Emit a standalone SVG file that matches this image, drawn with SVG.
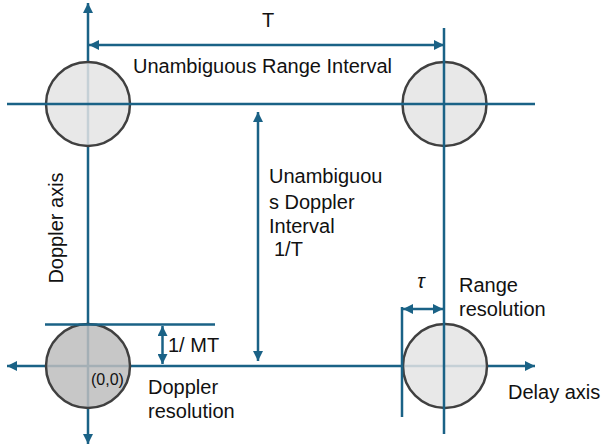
<svg xmlns="http://www.w3.org/2000/svg" width="601" height="448" viewBox="0 0 601 448">
<defs>
<style>
.ax{stroke:#1a6286;stroke-width:2.5;fill:none}
.c{stroke:#404040;stroke-width:2.5;fill:#e4e4e4;fill-opacity:0.85}
.cd{stroke:#404040;stroke-width:2.5;fill:#bdbdbd;fill-opacity:0.85}
.t{font-family:"Liberation Sans",Arial,sans-serif;font-size:20px;fill:#111}
.s{font-family:"Liberation Sans",Arial,sans-serif;font-size:16px;fill:#111}
</style>
<marker id="ah" viewBox="0 0 10 10" refX="10" refY="5" markerWidth="10" markerHeight="10" markerUnits="userSpaceOnUse" orient="auto-start-reverse">
<path d="M0,0 L10,5 L0,10 Z" fill="#1a6286"/>
</marker>
</defs>
<g id="connectors-under">
<line class="ax" x1="88" y1="444" x2="88" y2="3" marker-start="url(#ah)" marker-end="url(#ah)"/>
<line class="ax" x1="7" y1="366" x2="535" y2="366" marker-start="url(#ah)" marker-end="url(#ah)"/>
</g>
<g id="node-tl"><circle class="c" cx="88" cy="104" r="42"/></g>
<g id="node-tr"><circle class="c" cx="444.5" cy="104" r="42"/></g>
<g id="node-bl"><circle class="cd" cx="88" cy="366" r="42"/></g>
<g id="node-br"><circle class="c" cx="445" cy="366" r="42"/></g>
<g id="connectors">
<line class="ax" x1="7" y1="104" x2="535" y2="104"/>
<line class="ax" x1="444" y1="28" x2="444" y2="434"/>
<line class="ax" x1="89" y1="45" x2="444" y2="45" marker-start="url(#ah)" marker-end="url(#ah)"/>
<line class="ax" x1="258" y1="112" x2="258" y2="361" marker-start="url(#ah)" marker-end="url(#ah)"/>
<line class="ax" x1="45" y1="324.5" x2="215" y2="324.5"/>
<line class="ax" x1="162.5" y1="326" x2="162.5" y2="364" marker-start="url(#ah)" marker-end="url(#ah)"/>
<line class="ax" x1="402" y1="307" x2="402" y2="417"/>
<line class="ax" x1="403" y1="309" x2="443" y2="309" marker-start="url(#ah)" marker-end="url(#ah)"/>
</g>
<g id="labels">
<text class="t" x="268" y="27" text-anchor="middle">T</text>
<text class="t" x="133" y="73">Unambiguous Range Interval</text>
<text class="t" x="269" y="183">Unambiguou</text>
<text class="t" x="269" y="209">s Doppler</text>
<text class="t" x="269" y="233">Interval</text>
<text class="t" x="274" y="256">1/T</text>
<text class="t" transform="translate(63,228) rotate(-90)" text-anchor="middle">Doppler axis</text>
<text class="t" x="168" y="352">1/ MT</text>
<text class="s" x="91" y="385">(0,0)</text>
<text class="t" x="148" y="394">Doppler</text>
<text class="t" x="148" y="418">resolution</text>
<text class="t" x="421" y="288" text-anchor="middle" font-style="italic" font-family="'DejaVu Serif',serif">τ</text>
<text class="t" x="459" y="292">Range</text>
<text class="t" x="459" y="316">resolution</text>
<text class="t" x="508" y="399">Delay axis</text>
</g>
</svg>
